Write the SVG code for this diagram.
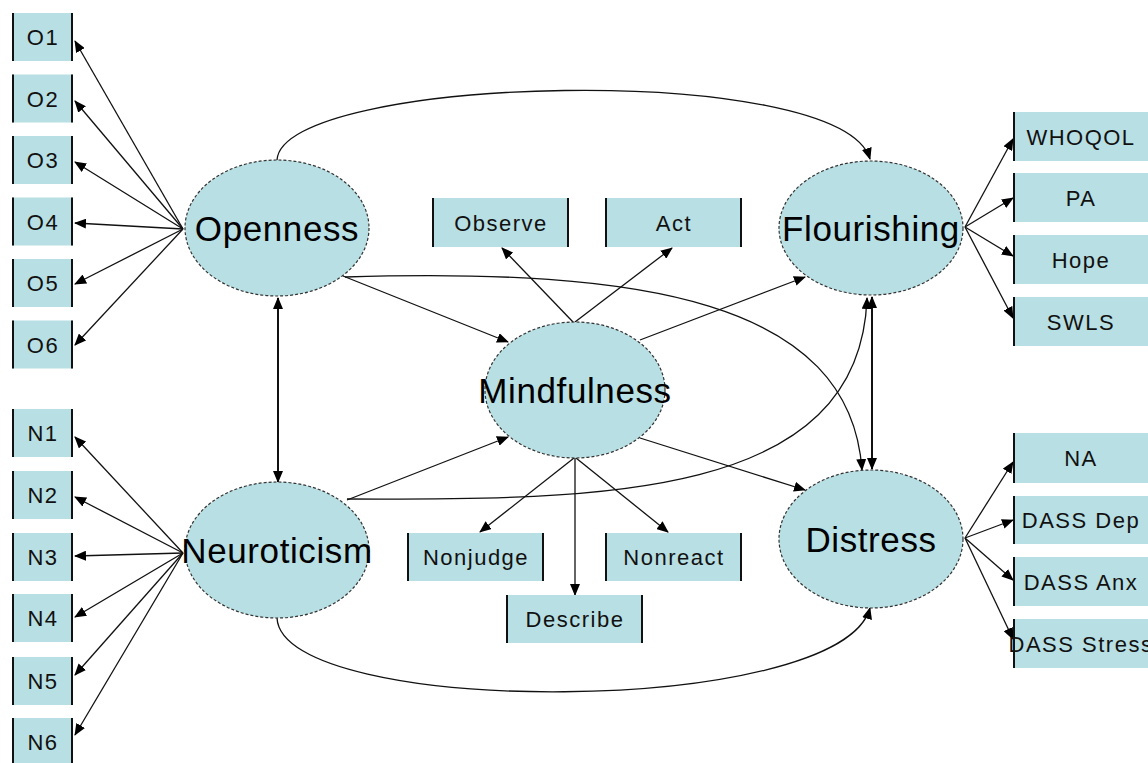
<svg xmlns="http://www.w3.org/2000/svg" width="1148" height="763" viewBox="0 0 1148 763">
<style>
.bx{fill:#b8dfe3;stroke:none}
.sd{stroke:#111;stroke-width:2}
.bt{font-family:"Liberation Sans",Arial,sans-serif;font-size:22px;letter-spacing:1.5px;fill:#111;text-anchor:middle}
.el{fill:#b8dfe3;stroke:#333;stroke-width:1.2;stroke-dasharray:3 2}
.et{font-family:"Liberation Sans",Arial,sans-serif;font-size:35px;letter-spacing:0.6px;fill:#000;text-anchor:middle}
.cn{fill:none;stroke:#111;stroke-width:1.3}
.thick{stroke-width:2}
</style>
<defs>
<marker id="ah" markerUnits="userSpaceOnUse" markerWidth="12" markerHeight="10" refX="11" refY="5" orient="auto-start-reverse" viewBox="0 0 12 10">
<path d="M0,0 L12,5 L0,10 z" fill="#000"/>
</marker>
</defs>
<rect width="1148" height="763" fill="#fff"/>

<g id="connectors">
<!-- Openness to indicators -->
<path class="cn" d="M183,229 L75,41" marker-end="url(#ah)"/>
<path class="cn" d="M183,229 L75,101" marker-end="url(#ah)"/>
<path class="cn" d="M183,229 L75,162" marker-end="url(#ah)"/>
<path class="cn" d="M183,229 L75,223" marker-end="url(#ah)"/>
<path class="cn" d="M183,229 L75,284" marker-end="url(#ah)"/>
<path class="cn" d="M183,229 L75,345" marker-end="url(#ah)"/>
<!-- Neuroticism to indicators -->
<path class="cn" d="M183,553 L75,437" marker-end="url(#ah)"/>
<path class="cn" d="M183,553 L75,497" marker-end="url(#ah)"/>
<path class="cn" d="M183,553 L75,556" marker-end="url(#ah)"/>
<path class="cn" d="M183,553 L75,617" marker-end="url(#ah)"/>
<path class="cn" d="M183,553 L75,675" marker-end="url(#ah)"/>
<path class="cn" d="M183,553 L75,735" marker-end="url(#ah)"/>
<!-- Flourishing to indicators -->
<path class="cn" d="M965,227 L1013,139" marker-end="url(#ah)"/>
<path class="cn" d="M965,227 L1013,198" marker-end="url(#ah)"/>
<path class="cn" d="M965,227 L1013,256" marker-end="url(#ah)"/>
<path class="cn" d="M965,227 L1013,318" marker-end="url(#ah)"/>
<!-- Distress to indicators -->
<path class="cn" d="M965,538 L1013,462" marker-end="url(#ah)"/>
<path class="cn" d="M965,538 L1013,520" marker-end="url(#ah)"/>
<path class="cn" d="M965,538 L1013,580" marker-end="url(#ah)"/>
<path class="cn" d="M965,538 L1013,639" marker-end="url(#ah)"/>
<!-- correlations -->
<path class="cn thick" d="M278,298 L278,482" marker-start="url(#ah)" marker-end="url(#ah)"/>
<path class="cn thick" d="M872,297 L872,469" marker-start="url(#ah)" marker-end="url(#ah)"/>
<!-- structural paths -->
<path class="cn" d="M343,276 L508,342" marker-end="url(#ah)"/>
<path class="cn" d="M347,500 L508,437" marker-end="url(#ah)"/>
<path class="cn" d="M640,340 L805,277" marker-end="url(#ah)"/>
<path class="cn" d="M640,438 L805,490" marker-end="url(#ah)"/>
<!-- Mindfulness facets -->
<path class="cn" d="M573,322 L502,248" marker-end="url(#ah)"/>
<path class="cn" d="M575,322 L672,248" marker-end="url(#ah)"/>
<path class="cn" d="M574,458 L480,532" marker-end="url(#ah)"/>
<path class="cn" d="M575,458 L575,595" marker-end="url(#ah)"/>
<path class="cn" d="M576,458 L668,532" marker-end="url(#ah)"/>
<!-- curves -->
<path class="cn" d="M277,160 C282,75 840,60 870,159" marker-end="url(#ah)"/>
<path class="cn" d="M277,618 C282,718 840,718 870,608" marker-end="url(#ah)"/>
<path class="cn" d="M345,277 C640,268 850,300 862,470" marker-end="url(#ah)"/>
<path class="cn" d="M347,499 C600,500 860,500 867,298" marker-end="url(#ah)"/>
</g>

<g id="O1"><rect class="bx" x="12" y="13" width="61" height="48"/><line class="sd" x1="13" y1="13" x2="13" y2="61"/><line class="sd" x1="72" y1="13" x2="72" y2="61"/><text class="bt" x="43" y="45">O1</text></g>
<g id="O2"><rect class="bx" x="12" y="74.5" width="61" height="48"/><line class="sd" x1="13" y1="74.5" x2="13" y2="122.5"/><line class="sd" x1="72" y1="74.5" x2="72" y2="122.5"/><text class="bt" x="43" y="106.5">O2</text></g>
<g id="O3"><rect class="bx" x="12" y="136" width="61" height="48"/><line class="sd" x1="13" y1="136" x2="13" y2="184"/><line class="sd" x1="72" y1="136" x2="72" y2="184"/><text class="bt" x="43" y="168">O3</text></g>
<g id="O4"><rect class="bx" x="12" y="197.5" width="61" height="48"/><line class="sd" x1="13" y1="197.5" x2="13" y2="245.5"/><line class="sd" x1="72" y1="197.5" x2="72" y2="245.5"/><text class="bt" x="43" y="229.5">O4</text></g>
<g id="O5"><rect class="bx" x="12" y="259" width="61" height="48"/><line class="sd" x1="13" y1="259" x2="13" y2="307"/><line class="sd" x1="72" y1="259" x2="72" y2="307"/><text class="bt" x="43" y="291">O5</text></g>
<g id="O6"><rect class="bx" x="12" y="320.5" width="61" height="48"/><line class="sd" x1="13" y1="320.5" x2="13" y2="368.5"/><line class="sd" x1="72" y1="320.5" x2="72" y2="368.5"/><text class="bt" x="43" y="352.5">O6</text></g>

<g id="N1"><rect class="bx" x="12" y="409" width="61" height="48"/><line class="sd" x1="13" y1="409" x2="13" y2="457"/><line class="sd" x1="72" y1="409" x2="72" y2="457"/><text class="bt" x="43" y="441">N1</text></g>
<g id="N2"><rect class="bx" x="12" y="471" width="61" height="48"/><line class="sd" x1="13" y1="471" x2="13" y2="519"/><line class="sd" x1="72" y1="471" x2="72" y2="519"/><text class="bt" x="43" y="503">N2</text></g>
<g id="N3"><rect class="bx" x="12" y="533" width="61" height="48"/><line class="sd" x1="13" y1="533" x2="13" y2="581"/><line class="sd" x1="72" y1="533" x2="72" y2="581"/><text class="bt" x="43" y="565">N3</text></g>
<g id="N4"><rect class="bx" x="12" y="594" width="61" height="48"/><line class="sd" x1="13" y1="594" x2="13" y2="642"/><line class="sd" x1="72" y1="594" x2="72" y2="642"/><text class="bt" x="43" y="626">N4</text></g>
<g id="N5"><rect class="bx" x="12" y="657" width="61" height="48"/><line class="sd" x1="13" y1="657" x2="13" y2="705"/><line class="sd" x1="72" y1="657" x2="72" y2="705"/><text class="bt" x="43" y="689">N5</text></g>
<g id="N6"><rect class="bx" x="12" y="718" width="61" height="48"/><line class="sd" x1="13" y1="718" x2="13" y2="766"/><line class="sd" x1="72" y1="718" x2="72" y2="766"/><text class="bt" x="43" y="750">N6</text></g>

<g id="WHOQOL"><rect class="bx" x="1013" y="112" width="140" height="49"/><line class="sd" x1="1014" y1="112" x2="1014" y2="161"/><text class="bt" x="1081" y="145">WHOQOL</text></g>
<g id="PA"><rect class="bx" x="1013" y="173" width="140" height="49"/><line class="sd" x1="1014" y1="173" x2="1014" y2="222"/><text class="bt" x="1081" y="206">PA</text></g>
<g id="Hope"><rect class="bx" x="1013" y="235" width="140" height="49"/><line class="sd" x1="1014" y1="235" x2="1014" y2="284"/><text class="bt" x="1081" y="268">Hope</text></g>
<g id="SWLS"><rect class="bx" x="1013" y="297" width="140" height="49"/><line class="sd" x1="1014" y1="297" x2="1014" y2="346"/><text class="bt" x="1081" y="330">SWLS</text></g>

<g id="NA"><rect class="bx" x="1013" y="433" width="140" height="50"/><line class="sd" x1="1014" y1="433" x2="1014" y2="483"/><text class="bt" x="1081" y="466">NA</text></g>
<g id="DASSDep"><rect class="bx" x="1013" y="496" width="140" height="48"/><line class="sd" x1="1014" y1="496" x2="1014" y2="544"/><text class="bt" x="1081" y="528">DASS Dep</text></g>
<g id="DASSAnx"><rect class="bx" x="1013" y="557" width="140" height="49"/><line class="sd" x1="1014" y1="557" x2="1014" y2="606"/><text class="bt" x="1081" y="590">DASS Anx</text></g>
<g id="DASSStress"><rect class="bx" x="1013" y="619" width="140" height="49"/><line class="sd" x1="1014" y1="619" x2="1014" y2="668"/><text class="bt" x="1081" y="652">DASS Stress</text></g>

<g id="Observe"><rect class="bx" x="432" y="198" width="137" height="49"/><line class="sd" x1="433" y1="198" x2="433" y2="247"/><line class="sd" x1="568" y1="198" x2="568" y2="247"/><text class="bt" x="501" y="231">Observe</text></g>
<g id="Act"><rect class="bx" x="605" y="198" width="137" height="49"/><line class="sd" x1="606" y1="198" x2="606" y2="247"/><line class="sd" x1="741" y1="198" x2="741" y2="247"/><text class="bt" x="674" y="231">Act</text></g>
<g id="Nonjudge"><rect class="bx" x="407" y="533" width="137" height="48"/><line class="sd" x1="408" y1="533" x2="408" y2="581"/><line class="sd" x1="543" y1="533" x2="543" y2="581"/><text class="bt" x="476" y="565">Nonjudge</text></g>
<g id="Nonreact"><rect class="bx" x="605" y="533" width="137" height="48"/><line class="sd" x1="606" y1="533" x2="606" y2="581"/><line class="sd" x1="741" y1="533" x2="741" y2="581"/><text class="bt" x="674" y="565">Nonreact</text></g>
<g id="Describe"><rect class="bx" x="506" y="595" width="137" height="48"/><line class="sd" x1="507" y1="595" x2="507" y2="643"/><line class="sd" x1="642" y1="595" x2="642" y2="643"/><text class="bt" x="575" y="627">Describe</text></g>

<g id="Openness"><ellipse class="el" cx="277" cy="228" rx="92" ry="68"/><text class="et" x="277" y="241">Openness</text></g>
<g id="Neuroticism"><ellipse class="el" cx="277" cy="550" rx="92" ry="68"/><text class="et" x="277" y="563">Neuroticism</text></g>
<g id="Mindfulness"><ellipse class="el" cx="575" cy="390" rx="90" ry="68"/><text class="et" x="575" y="403">Mindfulness</text></g>
<g id="Flourishing"><ellipse class="el" cx="871" cy="228" rx="92" ry="67"/><text class="et" x="871" y="241">Flourishing</text></g>
<g id="Distress"><ellipse class="el" cx="871" cy="539" rx="92" ry="69"/><text class="et" x="871" y="552">Distress</text></g>
</svg>
